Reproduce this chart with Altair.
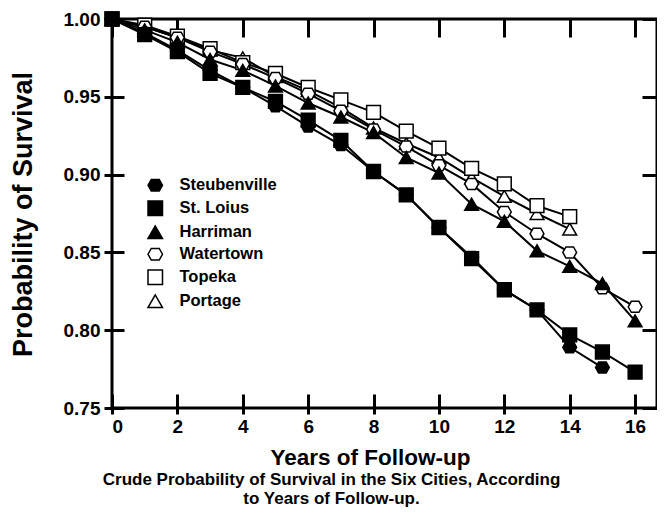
import altair as alt
import pandas as pd

cities = ["Steubenville", "St. Loius", "Harriman", "Watertown", "Topeka", "Portage"]

steubenville = [1.000, 0.991, 0.980, 0.967, 0.956, 0.944, 0.931, 0.919, 0.902, 0.887, 0.866, 0.847, 0.826, 0.813, 0.789, 0.776]
st_louis = [1.000, 0.990, 0.979, 0.965, 0.956, 0.947, 0.935, 0.922, 0.902, 0.887, 0.866, 0.846, 0.826, 0.813, 0.797, 0.786, 0.773]
harriman = [1.000, 0.993, 0.985, 0.974, 0.967, 0.957, 0.946, 0.937, 0.927, 0.911, 0.901, 0.881, 0.870, 0.851, 0.841, 0.830, 0.806]
watertown = [1.000, 0.995, 0.988, 0.979, 0.971, 0.962, 0.952, 0.941, 0.929, 0.918, 0.906, 0.894, 0.876, 0.862, 0.850, 0.827, 0.815]
topeka = [1.000, 0.996, 0.989, 0.981, 0.972, 0.965, 0.956, 0.948, 0.940, 0.928, 0.917, 0.904, 0.894, 0.880, 0.873]
portage = [1.000, 0.995, 0.988, 0.980, 0.975, 0.963, 0.954, 0.943, 0.930, 0.920, 0.911, 0.898, 0.886, 0.875, 0.865]

x_ticks = [0, 2, 4, 6, 8, 10, 12, 14, 16]
y_ticks = [0.75, 0.80, 0.85, 0.90, 0.95, 1.00]

series = [steubenville, st_louis, harriman, watertown, topeka, portage]
rows = []
for i, (name, vals) in enumerate(zip(cities, series)):
    for yr, v in enumerate(vals):
        rows.append({"city": name, "year": yr, "p": v, "layer": len(cities) - i})
df = pd.DataFrame(rows)

FONT = "Liberation Sans"
hexagon = "M-1,0L-0.55,-0.8L0.55,-0.8L1,0L0.55,0.8L-0.55,0.8Z"
shapes = [hexagon, "square", "triangle-up", hexagon, "square", "triangle-up"]
fills = ["black", "black", "black", "white", "white", "white"]
strokes = ["black"] * 6

xscale = alt.Scale(domain=[0, 16.67], nice=False, zero=False)
yscale = alt.Scale(domain=[0.75, 1.0], nice=False, zero=False)

common_axis = dict(domain=False, grid=False, tickColor="black", tickWidth=3,
                   labelFont=FONT, labelFontWeight="bold", labelColor="black",
                   titleFont=FONT, titleFontWeight="bold", titleColor="black")

lines = alt.Chart(df).mark_line(color="black", strokeWidth=2).encode(
    x=alt.X("year:Q", scale=xscale,
            axis=alt.Axis(orient="bottom", values=x_ticks, offset=-14, tickSize=20,
                          labelFontSize=19, labelPadding=3, title="Years of Follow-up",
                          titleFontSize=22.5, titleX=258, titleY=70, titleBaseline="alphabetic",
                          titleAlign="center", **common_axis)),
    y=alt.Y("p:Q", scale=yscale,
            axis=alt.Axis(orient="left", values=y_ticks, format=".2f", offset=-12, tickSize=20,
                          labelFontSize=19, labelPadding=4, title="Probability of Survival",
                          titleFontSize=27, titleX=-101, titleY=195, titleAngle=-90,
                          titleAlign="center", titleBaseline="middle", **common_axis)),
    detail="city:N",
    order="year:Q",
)

legend_kw = dict(title=None, symbolStrokeColor="black", symbolStrokeWidth=1.5, symbolOpacity=1)

points = alt.Chart(df).mark_point(filled=False, strokeWidth=1.5, size=190, opacity=1).encode(
    x=alt.X("year:Q", scale=xscale,
            axis=alt.Axis(orient="top", values=x_ticks, offset=-18, tickSize=18, labels=False,
                          title=None, **common_axis)),
    y=alt.Y("p:Q", scale=yscale,
            axis=alt.Axis(orient="right", values=y_ticks, offset=-15, tickSize=15, labels=False,
                          title=None, **common_axis)),
    shape=alt.Shape("city:N", scale=alt.Scale(domain=cities, range=shapes), sort=cities,
                    legend=alt.Legend(**legend_kw)),
    fill=alt.Fill("city:N", scale=alt.Scale(domain=cities, range=fills), sort=cities,
                  legend=alt.Legend(**legend_kw)),
    stroke=alt.Stroke("city:N", scale=alt.Scale(domain=cities, range=strokes), sort=cities,
                      legend=alt.Legend(**legend_kw)),
    order=alt.Order("layer:Q"),
)

chart = alt.layer(lines, points).resolve_axis(x="independent", y="independent").properties(
    width=545, height=389,
    padding={"left": 104, "top": 11, "right": 0, "bottom": 102},
    autosize=alt.AutoSizeParams(type="none"),
    title=alt.TitleParams(
        text=["Crude Probability of Survival in the Six Cities, According",
              "to Years of Follow-up."],
        orient="bottom", anchor="middle", frame="group", dx=-53, offset=3,
        font=FONT, fontSize=17, fontWeight="bold", color="black", lineHeight=19.5,
    ),
).configure_view(stroke="black", strokeWidth=3).configure_legend(
    orient="none", legendX=35, legendY=158, padding=0,
    labelFont=FONT, labelFontSize=16.5, labelFontWeight="bold", labelColor="black",
    symbolSize=210, symbolStrokeWidth=1.5, symbolStrokeColor="black",
    rowPadding=3, labelOffset=16,
)

chart.save("out.html", embed_options={"renderer": "svg", "actions": False})
